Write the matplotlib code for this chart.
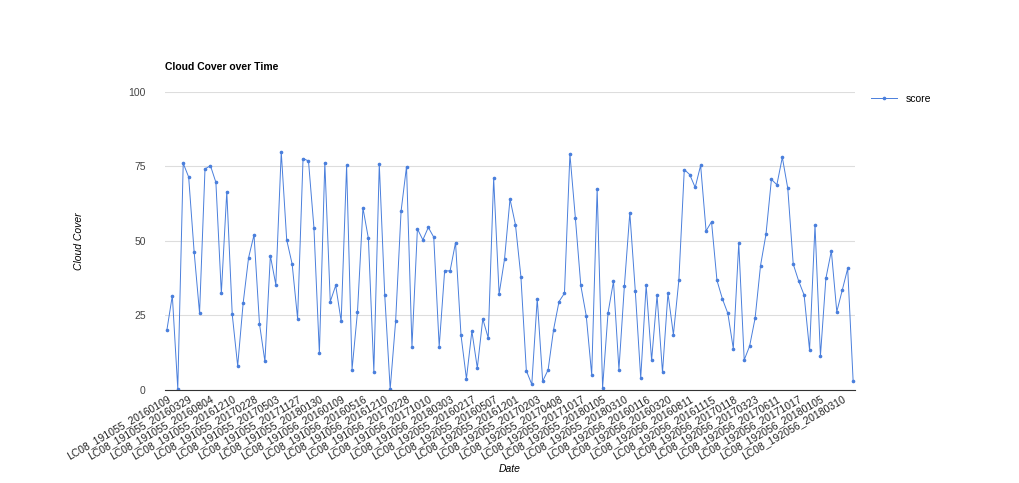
import numpy as np
import matplotlib
matplotlib.use("Agg")
import matplotlib.pyplot as plt

plt.rcParams["font.family"] = ["Liberation Sans", "DejaVu Sans"]

scores = [
    20.0, 31.6, 0.4, 76.0, 71.4, 46.4, 25.7, 74.1, 75.2, 69.6, 32.4, 66.5, 25.3, 8.0,
    29.0, 44.3, 52.0, 22.2, 9.5, 45.0, 35.3, 79.8, 50.3, 42.2, 23.9, 77.6, 76.8, 54.4,
    12.2, 76.2, 29.6, 35.0, 23.0, 75.3, 6.8, 26.2, 61.0, 50.8, 6.1, 75.8, 31.8, 0.2,
    23.0, 59.9, 74.9, 14.5, 54.0, 50.3, 54.5, 51.2, 14.5, 39.9, 39.9, 49.4, 18.4, 3.7,
    19.7, 7.3, 23.8, 17.4, 71.0, 32.1, 43.9, 64.0, 55.4, 38.0, 6.4, 1.8, 30.5, 2.9,
    6.7, 20.2, 29.6, 32.4, 79.1, 57.7, 35.0, 24.8, 5.0, 67.4, 0.7, 25.8, 36.4, 6.8,
    34.8, 59.4, 33.3, 3.9, 35.1, 9.9, 31.7, 5.8, 32.4, 18.5, 36.7, 73.9, 72.2, 67.9,
    75.3, 53.3, 56.4, 36.7, 30.5, 25.6, 13.8, 49.2, 10.0, 14.7, 24.0, 41.7, 52.2, 70.6,
    68.8, 78.0, 67.6, 42.2, 36.5, 31.8, 13.3, 55.2, 11.4, 37.4, 46.6, 26.2, 33.4, 40.7,
    3.0,
]

# tick labels shown on every 4th scene
tick_labels = [
    "LC08_191055_20160109", "LC08_191055_20160329", "LC08_191055_20160804",
    "LC08_191055_20161210", "LC08_191055_20170228", "LC08_191055_20170503",
    "LC08_191055_20171127", "LC08_191055_20180130", "LC08_191056_20160109",
    "LC08_191056_20160516", "LC08_191056_20161210", "LC08_191056_20170228",
    "LC08_191056_20171010", "LC08_191056_20180303", "LC08_192055_20160217",
    "LC08_192055_20160507", "LC08_192055_20161201", "LC08_192055_20170203",
    "LC08_192055_20170408", "LC08_192055_20171017", "LC08_192055_20180105",
    "LC08_192055_20180310", "LC08_192056_20160116", "LC08_192056_20160320",
    "LC08_192056_20160811", "LC08_192056_20161115", "LC08_192056_20170118",
    "LC08_192056_20170323", "LC08_192056_20170611", "LC08_192056_20171017",
    "LC08_192056_20180105", "LC08_192056_20180310",
]

fig = plt.figure(figsize=(10.2, 4.83), dpi=100)
ax = fig.add_axes([0.162, 0.193, 0.676, 0.617])

x = np.arange(len(scores))
ax.plot(x, scores, color="#4a7fdc", linewidth=0.7, marker="o", markersize=1.6,
        label="score")

ax.set_xlim(-0.3, len(scores) - 0.7)
ax.set_ylim(0, 100)
ax.set_yticks([0, 25, 50, 75, 100])
ax.grid(axis="y", color="#dddddd", linewidth=0.8)
ax.set_axisbelow(True)
for s in ["top", "right", "left"]:
    ax.spines[s].set_visible(False)
ax.spines["bottom"].set_color("#333333")

ax.set_xticks(np.arange(0, len(scores), 4)[:len(tick_labels)])
ax.set_xticklabels(tick_labels, rotation=30, ha="right", rotation_mode="anchor",
                   fontsize=7.5, color="#222222")
ax.tick_params(axis="y", length=0, labelsize=7.5, labelcolor="#444444", pad=14)
ax.tick_params(axis="x", length=0, pad=3)

ax.set_title("Cloud Cover over Time", loc="left", fontsize=7.5, fontweight="bold",
             pad=16)
ax.set_xlabel("Date", fontsize=7.5, style="italic", labelpad=2)
ax.set_ylabel("Cloud Cover", fontsize=7.5, style="italic", labelpad=32)

ax.legend(loc="upper left", bbox_to_anchor=(1.01, 1.025), frameon=False, fontsize=7.5,
          handlelength=2.5)

fig.savefig("out.png", dpi=100)
